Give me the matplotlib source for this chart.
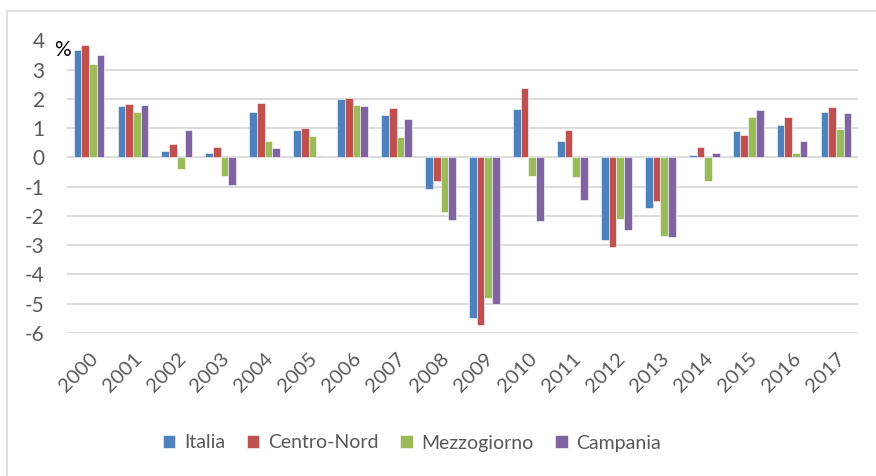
import matplotlib
matplotlib.use("Agg")
import matplotlib.pyplot as plt
import numpy as np
from matplotlib.patches import Rectangle

years = ["2000", "2001", "2002", "2003", "2004", "2005", "2006", "2007", "2008",
         "2009", "2010", "2011", "2012", "2013", "2014", "2015", "2016", "2017"]
italia = [3.69, 1.75, 0.22, 0.14, 1.55, 0.93, 1.99, 1.44, -1.06, -5.49, 1.66, 0.55,
          -2.82, -1.73, 0.09, 0.90, 1.12, 1.55]
centro_nord = [3.84, 1.83, 0.46, 0.35, 1.86, 1.00, 2.03, 1.69, -0.82, -5.71, 2.38, 0.93,
               -3.05, -1.48, 0.36, 0.77, 1.38, 1.71]
mezzogiorno = [3.21, 1.57, -0.40, -0.62, 0.55, 0.72, 1.81, 0.70, -1.85, -4.79, -0.62, -0.68,
               -2.11, -2.67, -0.80, 1.40, 0.15, 0.99]
campania = [3.52, 1.79, 0.94, -0.95, 0.31, 0.05, 1.77, 1.30, -2.13, -5.01, -2.17, -1.44,
            -2.48, -2.72, 0.15, 1.64, 0.55, 1.53]
series_names = ["Italia", "Centro-Nord", "Mezzogiorno", "Campania"]
colors = ["#4F81BD", "#C0504D", "#9BBB59", "#8064A2"]
yticks = [-6, -5, -4, -3, -2, -1, 0, 1, 2, 3, 4]

plt.rcParams['font.family'] = ['Lato', 'DejaVu Sans']

W, H = 876, 476
fig = plt.figure(figsize=(W / 100, H / 100), dpi=100)
ax = fig.add_axes([67 / W, 1 - 333 / H, (858 - 67) / W, (333 - 40.5) / H])

x = np.arange(len(years))
bw = 0.175
data = [italia, centro_nord, mezzogiorno, campania]
for i, (vals, name, c) in enumerate(zip(data, series_names, colors)):
    ax.bar(x + (i - 1.5) * bw, vals, width=bw, color=c, edgecolor="white",
           linewidth=0.4, label=name, zorder=3)

ax.set_xlim(-0.5, len(years) - 0.5)
ax.set_ylim(-6, 4)
ax.set_yticks(yticks)
ax.set_yticklabels([str(v) for v in yticks])
ax.yaxis.grid(True, color="#D9D9D9", linewidth=1.3, zorder=0)
ax.set_axisbelow(True)
for s in ax.spines.values():
    s.set_visible(False)
ax.tick_params(axis="y", length=0, pad=16, labelsize=15, labelcolor="#595959")
ax.set_xticks(x)
ax.set_xticklabels(years, rotation=45, ha="right", va="top", rotation_mode="anchor")
ax.tick_params(axis="x", length=0, pad=12, labelsize=14.5, labelcolor="#595959")

fig.text(54 / W, 1 - 50 / H, "%", fontsize=15, color="black", ha="left", va="center")

leg = fig.legend(loc="center", bbox_to_anchor=(412 / W, 1 - 443 / H), ncol=4,
                 frameon=False, fontsize=14, handlelength=0.65, handleheight=0.65,
                 handletextpad=0.45, columnspacing=1.1)
for t in leg.get_texts():
    t.set_color("#595959")

fig.patches.append(Rectangle((7 / W, -0.1), 1.2, 1 - 11 / H + 0.1, transform=fig.transFigure,
                             fill=False, edgecolor="#D9D9D9", linewidth=1.2))

fig.savefig("out.png", dpi=100)
